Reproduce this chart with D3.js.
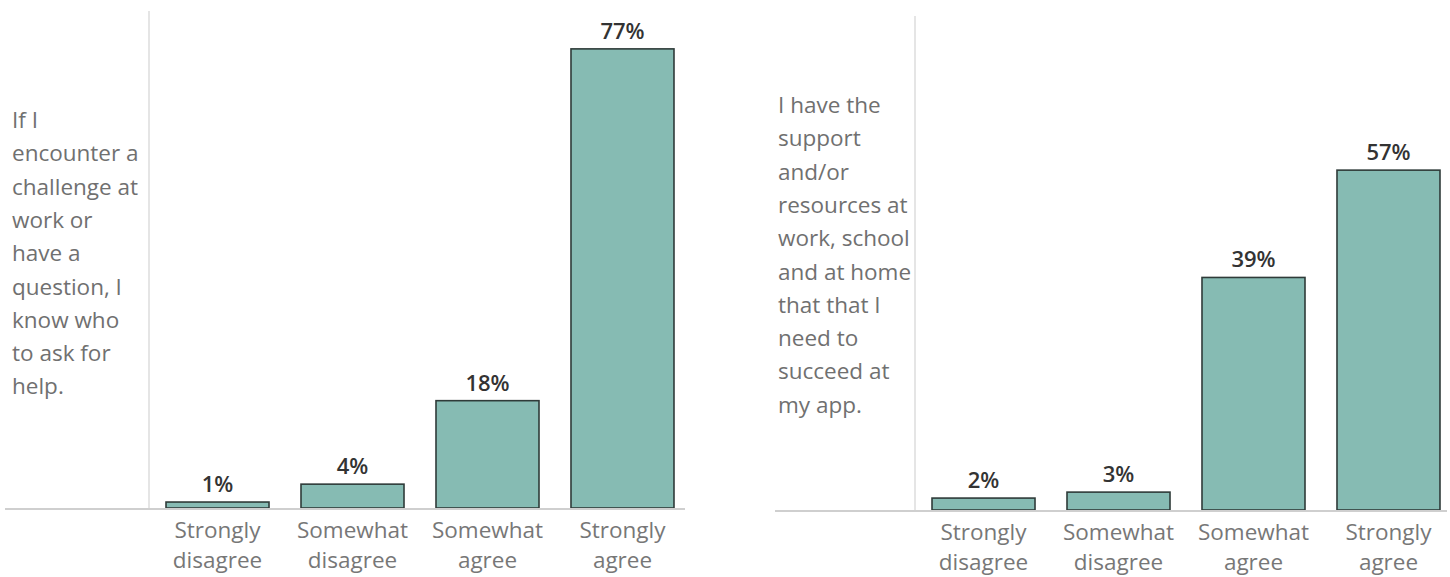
<!DOCTYPE html>
<html>
<head>
<meta charset="utf-8">
<script src="https://cdn.jsdelivr.net/npm/d3@7"></script>
<style>
  html, body { margin: 0; padding: 0; background: #fff; }
  svg { display: block; }
</style>
</head>
<body>
<svg id="chart" width="1450" height="577"></svg>
<script>
// Response categories shared by both survey questions
const categories = ["Strongly disagree", "Somewhat disagree", "Somewhat agree", "Strongly agree"];

// Share of respondents (%) per category
const helpValues = [1, 4, 18, 77];
const supportValues = [2, 3, 39, 57];

// Question wording, wrapped as shown in the row header
const helpQuestion = ["If I", "encounter a", "challenge at", "work or", "have a", "question, I", "know who", "to ask for", "help."];
const supportQuestion = ["I have the", "support", "and/or", "resources at", "work, school", "and at home", "that that I", "need to", "succeed at", "my app."];

const FONT = "'Open Sans', 'Noto Sans', sans-serif";
const svg = d3.select("#chart");

function drawPanel(opt) {
  const g = svg.append("g");

  const x = d3.scaleBand()
    .domain(categories)
    .range([opt.axisX, opt.axisX + 542])
    .paddingInner(0.237)
    .paddingOuter(0.126);

  const y = d3.scaleLinear()
    .domain([0, 80])
    .range([opt.baseY, opt.baseY - 477]);

  // row header text
  g.append("text")
    .attr("x", opt.textX)
    .attr("y", opt.textY)
    .attr("font-family", FONT)
    .attr("font-size", 22.5)
    .attr("fill", "#707070")
    .selectAll("tspan")
    .data(opt.question)
    .join("tspan")
    .attr("x", opt.textX)
    .attr("dy", (d, i) => i === 0 ? 0 : 33.3)
    .text(d => d);

  // pane divider
  g.append("line")
    .attr("x1", opt.axisX).attr("x2", opt.axisX)
    .attr("y1", opt.axisTop).attr("y2", opt.baseY)
    .attr("stroke", "#dcdcdc").attr("stroke-width", 1.5);

  // bars
  g.selectAll("rect.bar")
    .data(opt.values)
    .join("rect")
    .attr("class", "bar")
    .attr("x", (d, i) => x(categories[i]))
    .attr("width", x.bandwidth())
    .attr("y", d => y(d))
    .attr("height", d => y(0) - y(d))
    .attr("fill", "#86bbb3")
    .attr("stroke", "#2f3b39")
    .attr("stroke-width", 1.6);

  // value labels
  g.selectAll("text.val")
    .data(opt.values)
    .join("text")
    .attr("class", "val")
    .attr("x", (d, i) => x(categories[i]) + x.bandwidth() / 2)
    .attr("y", d => y(d) - 10)
    .attr("text-anchor", "middle")
    .attr("font-family", FONT)
    .attr("font-size", 22)
    .attr("font-weight", 600)
    .attr("fill", "#333")
    .text(d => d + "%");

  // baseline
  g.append("line")
    .attr("x1", opt.lineX1).attr("x2", opt.lineX2)
    .attr("y1", opt.baseY + 1).attr("y2", opt.baseY + 1)
    .attr("stroke", "#cfcfcf").attr("stroke-width", 2);

  // category axis labels
  const axis = d3.axisBottom(x).tickSize(0).tickPadding(0);
  const ax = g.append("g")
    .attr("transform", `translate(0,${opt.baseY})`)
    .call(axis);
  ax.select(".domain").remove();
  ax.selectAll(".tick text").each(function(d) {
    const t = d3.select(this);
    const words = d.split(" ");
    t.text(null)
      .attr("y", 0)
      .attr("dy", null)
      .attr("font-family", FONT)
      .attr("font-size", 22.5)
      .attr("fill", "#777");
    words.forEach((w, i) => {
      t.append("tspan")
        .attr("x", 0)
        .attr("y", i === 0 ? 30 : 60)
        .text(w);
    });
  });
}

drawPanel({
  values: helpValues, question: helpQuestion,
  axisX: 149, axisTop: 11, baseY: 508,
  textX: 12, textY: 128,
  lineX1: 5, lineX2: 685
});

drawPanel({
  values: supportValues, question: supportQuestion,
  axisX: 915, axisTop: 16, baseY: 510,
  textX: 778, textY: 113,
  lineX1: 775, lineX2: 1447
});
</script>
</body>
</html>
